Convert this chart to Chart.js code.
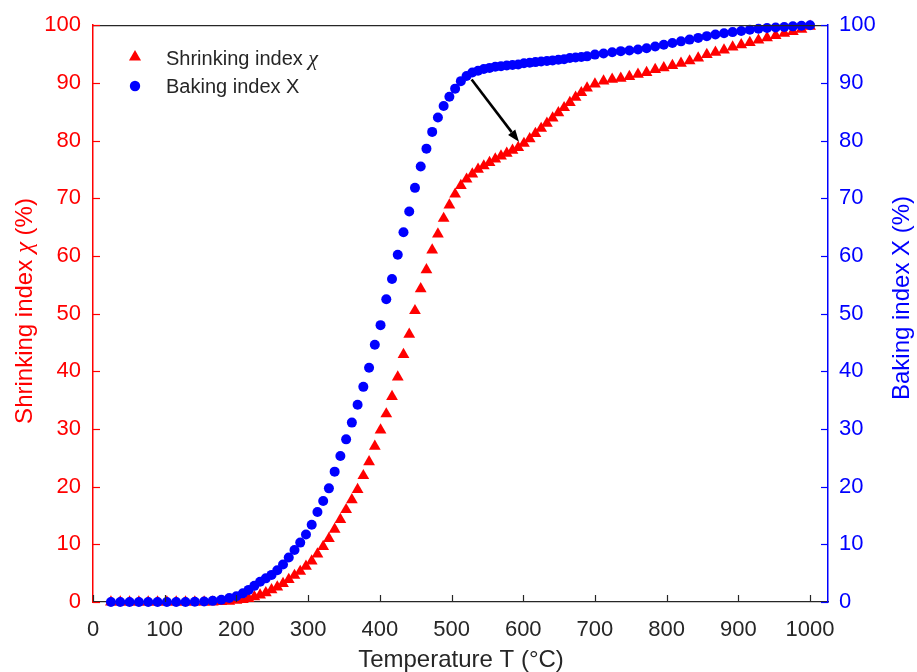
<!DOCTYPE html>
<html>
<head>
<meta charset="utf-8">
<script src="https://cdn.jsdelivr.net/npm/chart.js@4/dist/chart.umd.min.js"></script>
<style>
  html, body { margin: 0; padding: 0; background: #ffffff; }
  #wrap { width: 917px; height: 672px; }
</style>
</head>
<body>
<div id="wrap"><canvas id="chart" width="917" height="672"></canvas></div>
<script>
// Temperature grid (°C) shared by both measured indices
const temperatureC = [
  25, 38, 51, 64, 77, 90, 103, 116, 129, 142, 155, 167, 179, 190,
  200, 209, 217, 225, 233, 241, 249, 257, 265, 273, 281, 289, 297, 305, 313, 321,
  329, 337, 345, 353, 361, 369, 377, 385, 393, 401, 409, 417, 425, 433, 441, 449,
  457, 465, 473, 481, 489, 497, 505, 513, 521, 529, 537, 545, 553, 561, 569, 577,
  585, 593, 601, 609, 617, 625, 633, 641, 649, 657, 665, 673, 681, 689,
  700, 712, 724, 736, 748, 760, 772, 784, 796, 808, 820, 832, 844, 856, 868, 880,
  892, 904, 916, 928, 940, 952, 964, 976, 988, 1000
];

// Shrinking index χ (%) — left axis
const shrinkingIndex = [
  0, 0, 0, 0, 0, 0, 0, 0, 0, 0, 0, 0, 0.05, 0.1,
  0.3, 0.4, 0.6, 0.9, 1.2, 1.6, 2.1, 2.6, 3.2, 3.9, 4.6, 5.3, 6.2, 7.1, 8.3, 9.6,
  11.0, 12.6, 14.3, 16.0, 17.7, 19.5, 21.9, 24.3, 27.0, 29.8, 32.6, 35.6, 39.0, 42.9, 46.4, 50.5,
  54.3, 57.6, 61.0, 63.8, 66.5, 68.8, 70.7, 72.2, 73.3, 74.2, 75.0, 75.6, 76.2, 76.8, 77.3, 77.8,
  78.3, 78.8, 79.5, 80.3, 81.2, 82.1, 83.0, 83.9, 84.8, 85.7, 86.6, 87.5, 88.3, 89.1,
  89.8, 90.3, 90.6, 90.8, 91.1, 91.5, 91.8, 92.3, 92.6, 93.0, 93.4, 93.8, 94.3, 94.9, 95.3, 95.7,
  96.2, 96.6, 97.0, 97.4, 97.8, 98.2, 98.6, 98.9, 99.3, 99.8
];

// Baking index X (%) — right axis
const bakingIndex = [
  0, 0, 0, 0, 0, 0, 0, 0, 0, 0.05, 0.1, 0.2, 0.4, 0.7,
  1.0, 1.5, 2.1, 2.8, 3.5, 4.1, 4.7, 5.5, 6.5, 7.7, 9.0, 10.3, 11.7, 13.4, 15.6, 17.5,
  19.7, 22.6, 25.3, 28.2, 31.1, 34.2, 37.3, 40.6, 44.6, 48.0, 52.5, 56.0, 60.2, 64.1, 67.7, 71.8,
  75.5, 78.6, 81.5, 84.0, 86.0, 87.6, 89.0, 90.3, 91.2, 91.8, 92.1, 92.4, 92.6, 92.8, 92.9, 93.0,
  93.1, 93.2, 93.4, 93.5, 93.6, 93.7, 93.8, 93.9, 94.0, 94.1, 94.3, 94.4, 94.5, 94.6,
  94.9, 95.1, 95.3, 95.5, 95.6, 95.8, 96.0, 96.3, 96.6, 96.9, 97.2, 97.5, 97.8, 98.1, 98.4, 98.6,
  98.8, 99.0, 99.2, 99.4, 99.5, 99.6, 99.7, 99.8, 99.9, 100
];

// Tick values
const xTickValues = [0, 100, 200, 300, 400, 500, 600, 700, 800, 900, 1000];
const yTickValues = [0, 10, 20, 30, 40, 50, 60, 70, 80, 90, 100];

// Arrow pointing from the baking curve knee to the shrinking curve (data units)
const arrowFrom = [528, 90.6];
const arrowTo = [594, 79.8];

const RED = '#ff0000';
const BLUE = '#0000ff';
const INK = '#262626';
const SANS = "'Liberation Sans', Arial, Helvetica, sans-serif";
const SERIF = "'Liberation Serif', 'Times New Roman', serif";

const redPoints = temperatureC.map((t, i) => ({ x: t, y: shrinkingIndex[i] }));
const bluePoints = temperatureC.map((t, i) => ({ x: t, y: bakingIndex[i] }));

// Draw a run of text pieces (each with its own font) on the current baseline
function drawRuns(ctx, runs, align) {
  let total = 0;
  runs.forEach(r => { ctx.font = r.font; total += ctx.measureText(r.text).width; });
  let x = align === 'center' ? -total / 2 : 0;
  runs.forEach(r => {
    ctx.font = r.font;
    ctx.fillText(r.text, x, 0);
    x += ctx.measureText(r.text).width;
  });
}

const decorations = {
  id: 'decorations',
  afterDraw(chart) {
    const { ctx, chartArea: a, scales } = chart;
    const sx = scales.x, sy = scales.y, sy1 = scales.y1;
    ctx.save();

    // top frame line
    ctx.strokeStyle = INK;
    ctx.lineWidth = 1.2;
    ctx.beginPath();
    ctx.moveTo(a.left, a.top + 0.5);
    ctx.lineTo(a.right, a.top + 0.5);
    ctx.stroke();

    // inward tick marks
    const tl = 7;
    ctx.lineWidth = 1.2;
    ctx.strokeStyle = INK;
    xTickValues.forEach(v => {
      const px = Math.round(sx.getPixelForValue(v)) + 0.5;
      ctx.beginPath();
      ctx.moveTo(px, a.bottom);
      ctx.lineTo(px, a.bottom - tl);
      ctx.stroke();
    });
    ctx.strokeStyle = RED;
    yTickValues.forEach(v => {
      const py = Math.round(sy.getPixelForValue(v)) + 0.5;
      ctx.beginPath();
      ctx.moveTo(a.left, py);
      ctx.lineTo(a.left + tl, py);
      ctx.stroke();
    });
    ctx.strokeStyle = BLUE;
    yTickValues.forEach(v => {
      const py = Math.round(sy1.getPixelForValue(v)) + 0.5;
      ctx.beginPath();
      ctx.moveTo(a.right, py);
      ctx.lineTo(a.right - tl, py);
      ctx.stroke();
    });

    // arrow
    const x0 = sx.getPixelForValue(arrowFrom[0]), y0 = sy1.getPixelForValue(arrowFrom[1]);
    const x1 = sx.getPixelForValue(arrowTo[0]), y1 = sy.getPixelForValue(arrowTo[1]);
    const ang = Math.atan2(y1 - y0, x1 - x0);
    const headLen = 12, headHalf = 4.5;
    const bx = x1 - headLen * Math.cos(ang), by = y1 - headLen * Math.sin(ang);
    ctx.strokeStyle = '#000';
    ctx.fillStyle = '#000';
    ctx.lineWidth = 2.6;
    ctx.beginPath();
    ctx.moveTo(x0, y0);
    ctx.lineTo(bx, by);
    ctx.stroke();
    ctx.beginPath();
    ctx.moveTo(x1, y1);
    ctx.lineTo(bx + headHalf * Math.sin(ang), by - headHalf * Math.cos(ang));
    ctx.lineTo(bx - headHalf * Math.sin(ang), by + headHalf * Math.cos(ang));
    ctx.closePath();
    ctx.fill();

    // legend
    const lx = 135;
    ctx.fillStyle = RED;
    ctx.beginPath();
    const tr = 7;
    ctx.moveTo(lx, 57 - tr);
    ctx.lineTo(lx + tr * 0.866, 57 + tr * 0.5);
    ctx.lineTo(lx - tr * 0.866, 57 + tr * 0.5);
    ctx.closePath();
    ctx.fill();
    ctx.fillStyle = BLUE;
    ctx.beginPath();
    ctx.arc(lx, 86, 5.2, 0, Math.PI * 2);
    ctx.fill();

    ctx.fillStyle = INK;
    ctx.textBaseline = 'alphabetic';
    ctx.textAlign = 'left';
    ctx.save();
    ctx.translate(166, 64.5);
    drawRuns(ctx, [
      { text: 'Shrinking index ', font: `20px ${SANS}` },
      { text: 'χ', font: `italic 22px ${SERIF}` }
    ], 'left');
    ctx.restore();
    ctx.save();
    ctx.translate(166, 93);
    drawRuns(ctx, [{ text: 'Baking index X', font: `20px ${SANS}` }], 'left');
    ctx.restore();

    // axis titles
    ctx.fillStyle = INK;
    ctx.save();
    ctx.translate(461, 667);
    drawRuns(ctx, [{ text: 'Temperature T (°C)', font: `24px ${SANS}` }], 'center');
    ctx.restore();

    ctx.fillStyle = RED;
    ctx.save();
    ctx.translate(32, 311);
    ctx.rotate(-Math.PI / 2);
    drawRuns(ctx, [
      { text: 'Shrinking index ', font: `24px ${SANS}` },
      { text: 'χ', font: `italic 25px ${SERIF}` },
      { text: ' (%)', font: `24px ${SANS}` }
    ], 'center');
    ctx.restore();

    ctx.fillStyle = BLUE;
    ctx.save();
    ctx.translate(909, 298);
    ctx.rotate(-Math.PI / 2);
    drawRuns(ctx, [{ text: 'Baking index X (%)', font: `24px ${SANS}` }], 'center');
    ctx.restore();

    ctx.restore();
  }
};

const tickFont = { family: SANS, size: 22 };
const plainLabel = v => String(v);

new Chart(document.getElementById('chart'), {
  type: 'scatter',
  data: {
    datasets: [
      {
        label: 'Shrinking index χ',
        data: redPoints,
        yAxisID: 'y',
        order: 2,
        pointStyle: 'triangle',
        pointRadius: 6.8,
        backgroundColor: RED,
        borderColor: RED,
        borderWidth: 0,
        showLine: false,
        clip: false
      },
      {
        label: 'Baking index X',
        data: bluePoints,
        yAxisID: 'y1',
        order: 1,
        pointStyle: 'circle',
        pointRadius: 5,
        backgroundColor: BLUE,
        borderColor: BLUE,
        borderWidth: 0,
        showLine: false,
        clip: false
      }
    ]
  },
  options: {
    responsive: false,
    animation: false,
    events: [],
    layout: { padding: { top: 22, left: 0, right: 0, bottom: 0 } },
    plugins: { legend: { display: false }, tooltip: { enabled: false } },
    scales: {
      x: {
        type: 'linear',
        position: 'bottom',
        min: 0,
        max: 1025,
        grid: { display: false, drawTicks: false },
        border: { display: true, color: INK, width: 1.2 },
        ticks: { color: INK, font: tickFont, padding: 15, maxRotation: 0, callback: plainLabel },
        afterBuildTicks: s => { s.ticks = xTickValues.map(v => ({ value: v })); },
        afterFit: s => { s.height = 70; }
      },
      y: {
        type: 'linear',
        position: 'left',
        min: 0,
        max: 100,
        grid: { display: false, drawTicks: false },
        border: { display: true, color: RED, width: 1.5 },
        ticks: { color: RED, font: tickFont, padding: 12, callback: plainLabel },
        afterBuildTicks: s => { s.ticks = yTickValues.map(v => ({ value: v })); },
        afterFit: s => { s.width = 93; }
      },
      y1: {
        type: 'linear',
        position: 'right',
        min: 0,
        max: 100,
        grid: { display: false, drawTicks: false },
        border: { display: true, color: BLUE, width: 1.5 },
        ticks: { color: BLUE, font: tickFont, padding: 11, callback: plainLabel },
        afterBuildTicks: s => { s.ticks = yTickValues.map(v => ({ value: v })); },
        afterFit: s => { s.width = 89; }
      }
    }
  },
  plugins: [decorations]
});
</script>
</body>
</html>
